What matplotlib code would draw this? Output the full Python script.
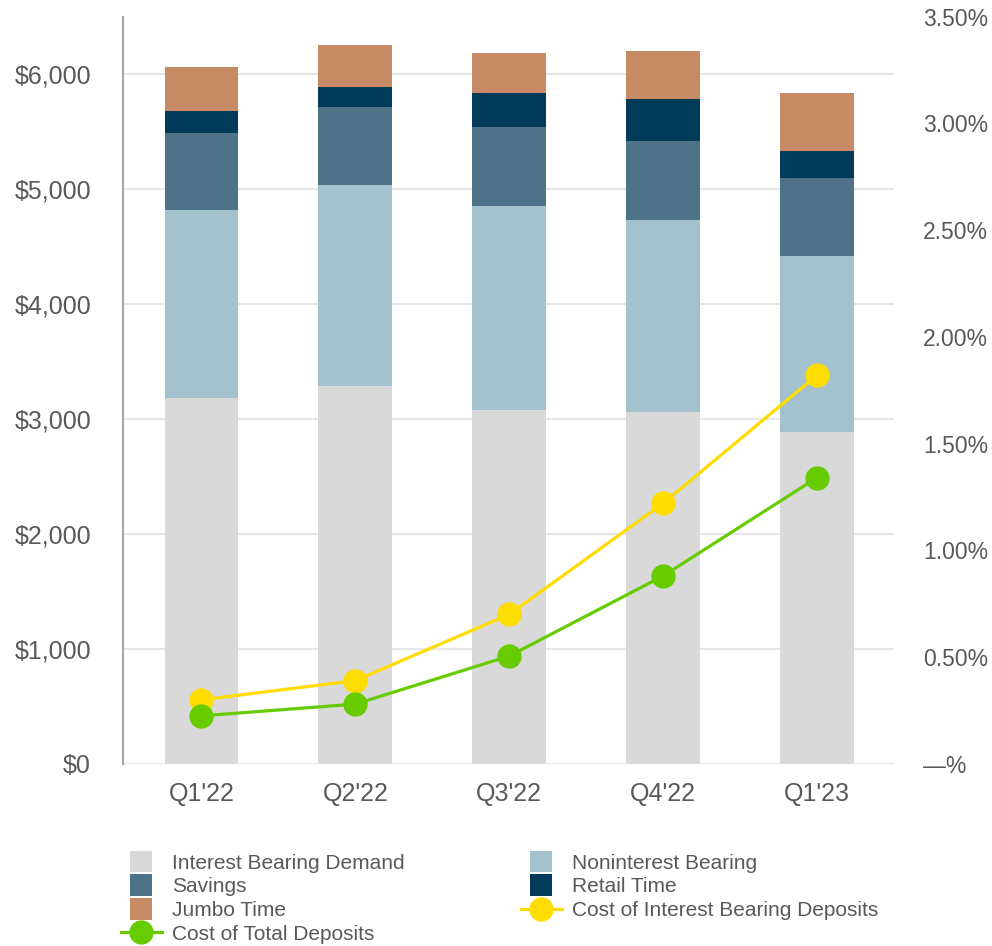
import matplotlib
matplotlib.use("Agg")
import matplotlib.pyplot as plt
from matplotlib.patches import Rectangle
from matplotlib.legend_handler import HandlerPatch
import numpy as np

plt.rcParams['font.family'] = ['Liberation Sans', 'DejaVu Sans']

quarters = ["Q1'22", "Q2'22", "Q3'22", "Q4'22", "Q1'23"]
interest_bearing_demand = [3182, 3287, 3078, 3060, 2886]
noninterest_bearing = [1639, 1744, 1778, 1674, 1534]
savings = [663, 680, 680, 680, 680]
retail_time = [192, 174, 297, 366, 227]
jumbo_time = [383, 366, 348, 419, 506]
cost_ib_deposits = [0.30, 0.39, 0.70, 1.22, 1.82]
cost_total_deposits = [0.225, 0.28, 0.505, 0.88, 1.34]

left_ticks = [0, 1000, 2000, 3000, 4000, 5000, 6000]
right_ticks = [0, 0.5, 1.0, 1.5, 2.0, 2.5, 3.0, 3.5]

series = [
    ("Interest Bearing Demand", interest_bearing_demand, "#D9D9D9"),
    ("Noninterest Bearing", noninterest_bearing, "#A4C2CD"),
    ("Savings", savings, "#4E7388"),
    ("Retail Time", retail_time, "#023A5A"),
    ("Jumbo Time", jumbo_time, "#C68A64"),
]

txt = "#595959"
fig = plt.figure(figsize=(9.92, 9.46), dpi=100)
ax = fig.add_axes([0.124, 0.1925, 0.777, 0.790])
x = np.arange(len(quarters))
bottom = np.zeros(len(quarters))
handles = {}
for name, vals, col in series:
    b = ax.bar(x, vals, 0.48, bottom=bottom, color=col, label=name, zorder=2)
    handles[name] = b.patches[0]
    bottom += np.array(vals)

ax.set_xlim(-0.51, 4.5)
ax.set_ylim(0, 6500)
ax.set_yticks(left_ticks)
ax.set_yticklabels([f"${v:,.0f}" for v in left_ticks])
ax.set_xticks(x)
ax.set_xticklabels(quarters)
ax.yaxis.grid(True, color="#E6E6E6", linewidth=1.5, zorder=0)
ax.set_axisbelow(True)
for s in ["top", "right", "bottom"]:
    ax.spines[s].set_visible(False)
ax.spines["left"].set_color("#A6A6A6")
ax.spines["left"].set_linewidth(1.5)
ax.tick_params(axis="y", length=0, pad=23, labelsize=18, labelcolor=txt)
ax.tick_params(axis="x", length=0, pad=13, labelsize=18, labelcolor=txt)

ax2 = ax.twinx()
ax2.set_ylim(0, 3.5)
ax2.set_yticks(right_ticks)
ax2.set_yticklabels(["—%" if v == 0 else f"{v:.2f}%" for v in right_ticks])
for s in ["top", "right", "bottom", "left"]:
    ax2.spines[s].set_visible(False)
ax2.tick_params(axis="y", length=0, pad=21, labelsize=16.5, labelcolor=txt)
l1, = ax2.plot(x, cost_ib_deposits, color="#FFDD00", lw=2.3, marker="o",
               markersize=16.5, label="Cost of Interest Bearing Deposits", zorder=3)
l2, = ax2.plot(x, cost_total_deposits, color="#66CC00", lw=2.3, marker="o",
               markersize=16.5, label="Cost of Total Deposits", zorder=3)


def square(legend, orig_handle, xdescent, ydescent, width, height, fontsize):
    s = 1.05 * fontsize
    return Rectangle((-xdescent + width / 2 - s / 2, -ydescent + height / 2 - s / 2), s, s)


order = [handles["Interest Bearing Demand"], handles["Savings"], handles["Jumbo Time"], l2,
         handles["Noninterest Bearing"], handles["Retail Time"], l1]
labels = ["Interest Bearing Demand", "Savings", "Jumbo Time", "Cost of Total Deposits",
          "Noninterest Bearing", "Retail Time", "Cost of Interest Bearing Deposits"]
hmap = {h: HandlerPatch(patch_func=square) for h in handles.values()}
leg = fig.legend(order, labels, loc="upper left", bbox_to_anchor=(0.122, 0.0975),
                 ncol=2, frameon=False, fontsize=15, labelcolor=txt,
                 handlelength=1.95, handletextpad=0.48, columnspacing=5.6,
                 labelspacing=0.22, borderpad=0, borderaxespad=0, handler_map=hmap)

fig.savefig("out.png", dpi=100)
